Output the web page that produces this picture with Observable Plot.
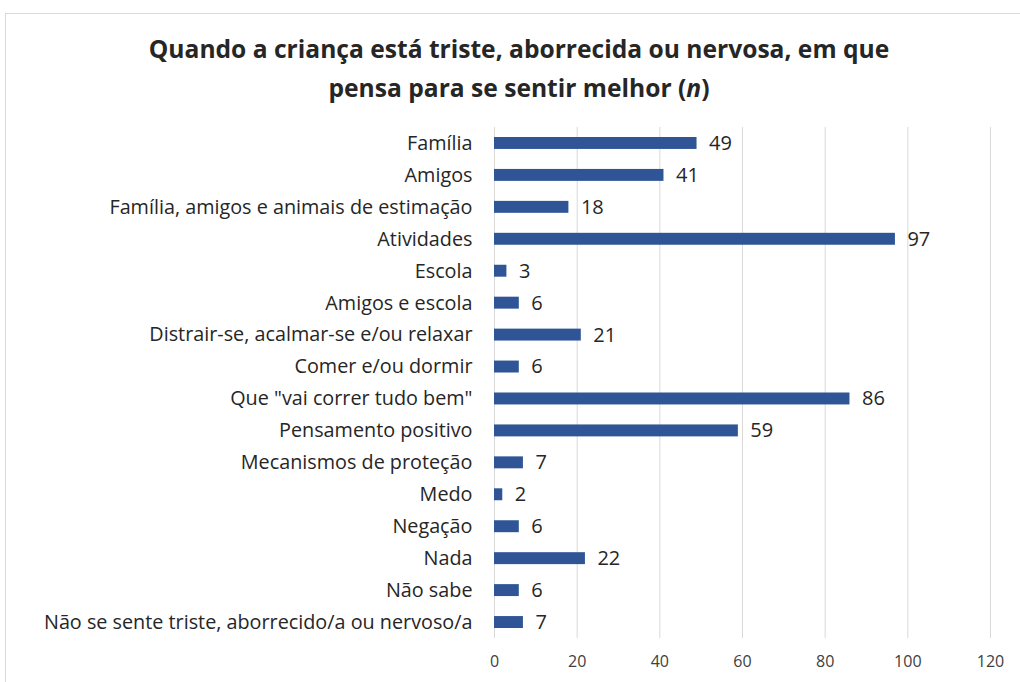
<!DOCTYPE html>
<html><head><meta charset="utf-8">
<script src="https://cdn.jsdelivr.net/npm/d3@7"></script>
<script src="https://cdn.jsdelivr.net/npm/@observablehq/plot@0.6"></script>
<style>
body{margin:0;background:#fff;width:1020px;height:682px;overflow:hidden;position:relative;font-family:"Open Sans",Lato,sans-serif;}
#frame{position:absolute;left:5px;top:13px;width:1100px;height:800px;border:1px solid #d9d9d9;box-sizing:border-box;}
#title{position:absolute;left:0;top:29px;width:1038px;text-align:center;font-weight:bold;font-size:24.6px;line-height:39px;color:#262626;}
#chart{position:absolute;left:0;top:115px;}
</style></head>
<body>
<div id="frame"></div>
<div id="title">Quando a criança está triste, aborrecida ou nervosa, em que<br>pensa para se sentir melhor (<i>n</i>)</div>
<div id="chart"></div>
<script>
const categories = ["Família","Amigos","Família, amigos e animais de estimação","Atividades","Escola","Amigos e escola","Distrair-se, acalmar-se e/ou relaxar","Comer e/ou dormir","Que \"vai correr tudo bem\"","Pensamento positivo","Mecanismos de proteção","Medo","Negação","Nada","Não sabe","Não se sente triste, aborrecido/a ou nervoso/a"];
const values = [49,41,18,97,3,6,21,6,86,59,7,2,6,22,6,7];
const xTicks = [0,20,40,60,80,100,120];
const data = categories.map((c,i)=>({cat:c,value:values[i]}));
const chart = Plot.plot({
  width:1020, height:567,
  marginLeft:494, marginRight:30, marginTop:12, marginBottom:44,
  style:{fontFamily:"'Open Sans', Lato, sans-serif", color:"#404040", background:"transparent"},
  x:{domain:[0,120], ticks:xTicks, label:null},
  y:{domain:categories, paddingInner:0, paddingOuter:0, round:false, label:null},
  marks:[
    Plot.gridX(xTicks,{stroke:"#d9d9d9", strokeOpacity:1, strokeWidth:1}),
    Plot.barX(data,{x:"value", y:"cat", fill:"#2F5597", insetTop:10, insetBottom:10}),
    Plot.text(data,{x:"value", y:"cat", text:d=>String(d.value), textAnchor:"start", dx:12, fontSize:20, fill:"#262626"}),
    Plot.axisX(xTicks,{tickSize:0, tickPadding:17, fontSize:16, fill:"#404040"}),
    Plot.axisY({tickSize:0, tickPadding:22, fontSize:19.8, fill:"#262626"})
  ]
});
document.getElementById("chart").appendChild(chart);
</script>
</body></html>
